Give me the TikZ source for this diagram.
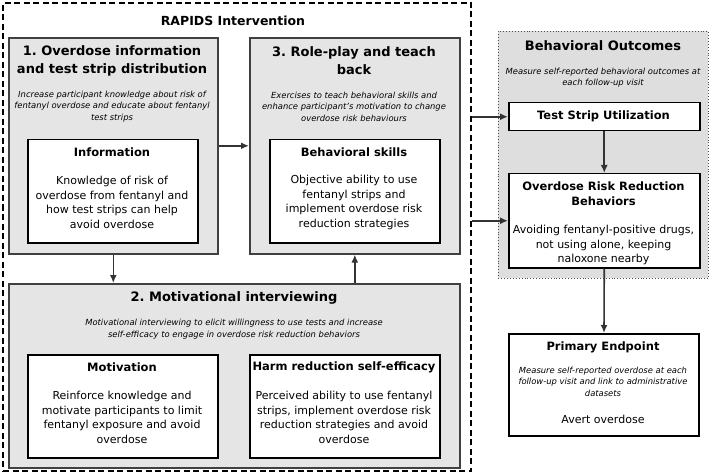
\documentclass[tikz,border=0pt]{standalone}
\usepackage{fontspec}
\setmainfont{DejaVu Sans}
\usetikzlibrary{arrows.meta,calc}
\frenchspacing
\begin{document}
\begin{tikzpicture}[x=1pt,y=-1pt,
  box/.style={rectangle,inner sep=0,anchor=north west},
  graybox/.style={box,draw=black!75,line width=1.6pt,fill=black!10},
  whitebox/.style={box,draw=black,line width=1.5pt,fill=white},
  bigtitle/.style={align=center,font=\fontsize{13}{18}\selectfont\bfseries,inner sep=0},
  subtitle/.style={align=center,font=\fontsize{11.5}{15}\selectfont\bfseries,inner sep=0},
  bodytext/.style={align=center,font=\fontsize{11}{14.5}\selectfont,inner sep=0},
  ittext/.style={align=center,font=\fontsize{8.4}{11.6}\selectfont\itshape,inner sep=0},
  arr/.style={-{Latex[length=8pt,width=7pt]},line width=1.6pt,draw=black!80}
]
\useasboundingbox (0,0) rectangle (709,473);
% outer dashed box
\node[box,draw=black,line width=2pt,dash pattern=on 6pt off 3.5pt,minimum width=468pt,minimum height=468pt] (outer) at (2,2) {};
\node[font=\fontsize{12.5}{15}\selectfont\bfseries,inner sep=0] (rapids) at (233,21) {RAPIDS Intervention};

% box 1
\node[graybox,minimum width=209pt,minimum height=216pt] (b1) at (8,37) {};
\node[bigtitle] (b1t) at (112,61) {1. Overdose information\\and test strip distribution};
\node[ittext] (b1i) at (112,106.5) {Increase participant knowledge about risk of\\fentanyl overdose and educate about fentanyl\\test strips};
\node[whitebox,minimum width=170pt,minimum height=103pt] (info) at (27,139) {};
\node[subtitle] (infot) at (112,152) {Information};
\node[bodytext] (infob) at (112,202.5) {Knowledge of risk of\\overdose from fentanyl and\\how test strips can help\\avoid overdose};

% box 3
\node[graybox,minimum width=210pt,minimum height=216pt] (b3) at (249,37) {};
\node[bigtitle] (b3t) at (354,61) {3. Role-play and teach\\back};
\node[ittext] (b3i) at (354,106.5) {Exercises to teach behavioral skills and\\enhance participant's motivation to change\\overdose risk behaviours};
\node[whitebox,minimum width=170pt,minimum height=103pt] (skills) at (269,139) {};
\node[subtitle] (skillst) at (354,152) {Behavioral skills};
\node[bodytext] (skillsb) at (354,202.5) {Objective ability to use\\fentanyl strips and\\implement overdose risk\\reduction strategies};

% box 2
\node[graybox,minimum width=451pt,minimum height=184pt] (b2) at (8,283) {};
\node[bigtitle] (b2t) at (234,298) {2. Motivational interviewing};
\node[ittext] (b2i) at (234,329) {Motivational interviewing to elicit willingness to use tests and increase\\self-efficacy to engage in overdose risk reduction behaviors};
\node[whitebox,minimum width=190pt,minimum height=103pt] (motiv) at (27,354) {};
\node[subtitle] (motivt) at (122,367) {Motivation};
\node[bodytext] (motivb) at (122,417.5) {Reinforce knowledge and\\motivate participants to limit\\fentanyl exposure and avoid\\overdose};
\node[whitebox,minimum width=190pt,minimum height=103pt] (harm) at (249,354) {};
\node[subtitle] (harmt) at (344,367) {Harm reduction self-efficacy};
\node[bodytext] (harmb) at (344,417.5) {Perceived ability to use fentanyl\\strips, implement overdose risk\\reduction strategies and avoid\\overdose};

% behavioral outcomes
\node[box,draw=black!70,line width=0.9pt,dotted,fill=black!13,minimum width=210pt,minimum height=247pt] (bo) at (498,31) {};
\node[bigtitle] (bot) at (603,46) {Behavioral Outcomes};
\node[ittext] (boi) at (603,77.5) {Measure self-reported behavioral outcomes at\\each follow-up visit};
\node[whitebox,minimum width=191pt,minimum height=28pt] (ts) at (508,102) {};
\node[subtitle] (tst) at (603.5,116) {Test Strip Utilization};
\node[whitebox,minimum width=191pt,minimum height=94pt] (orrb) at (508,173) {};
\node[subtitle] (orrbt) at (603.5,193.5) {Overdose Risk Reduction\\Behaviors};
\node[bodytext] (orrbb) at (603.5,245) {Avoiding fentanyl-positive drugs,\\not using alone, keeping\\naloxone nearby};

% primary endpoint
\node[box,draw=black,line width=2pt,fill=white,minimum width=190pt,minimum height=102pt] (pe) at (508,333) {};
\node[subtitle] (pet) at (603,347) {Primary Endpoint};
\node[ittext] (pei) at (603,381.5) {Measure self-reported overdose at each\\follow-up visit and link to administrative\\datasets};
\node[bodytext] (peb) at (603,419) {Avert overdose};

% arrows
\draw[arr] (b1.east) -- (b3.west);
\draw[arr] (b1.south) -- (b1.south |- b2.north);
\draw[arr] (b3.south |- b2.north) -- (b3.south);
\draw[arr] (outer.east |- ts.west) -- (ts.west);
\draw[arr] (outer.east |- orrb.west) -- (orrb.west);
\draw[arr] (ts.south) -- (orrb.north);
\draw[arr] (orrb.south) -- (pe.north);
\end{tikzpicture}
\end{document}
